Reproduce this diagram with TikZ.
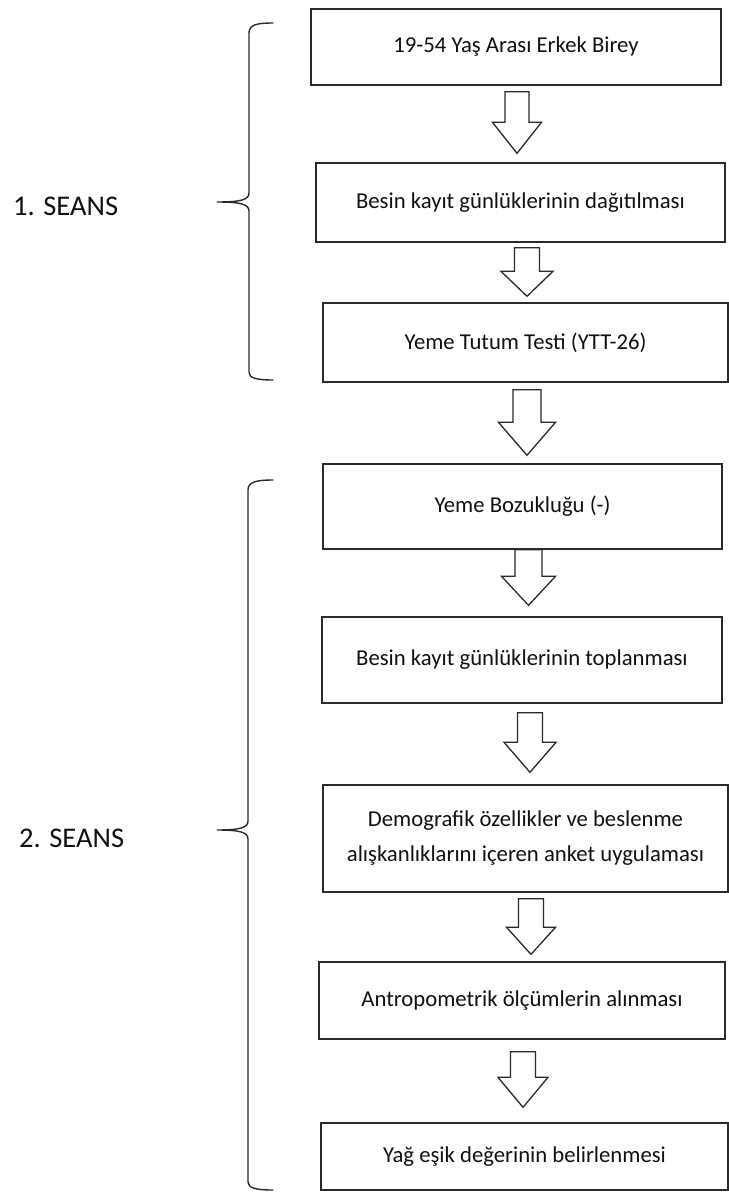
\documentclass[tikz,border=0pt]{standalone}
\usepackage{fontspec}
\setmainfont{Carlito}
\usetikzlibrary{calc}
\definecolor{linec}{HTML}{2A2A2A}
\definecolor{textc}{HTML}{111111}
\tikzset{
  box/.style={draw=linec, line width=1.4bp, rectangle, inner sep=0pt, align=center,
    text=textc, font=\fontsize{22.7bp}{35bp}\selectfont},
  barrow/.style={draw=linec, line width=1.3bp, fill=white, line join=miter},
  bracepath/.style={draw=linec, line width=1.4bp, line cap=round},
  seans/.style={text=textc, font=\fontsize{28.5bp}{34bp}\selectfont, inner sep=0pt, anchor=west}
}
% #1 from, #2 to, #3 centre x, #4 stem half width, #5 head half width, #6 top gap, #7 bottom gap, #8 head length
\newcommand{\blockarrow}[8]{%
  \draw[barrow] let \p1=(#1.south), \p2=(#2.north) in
    ({(#3-#4)*1bp},{\y1-#6bp}) -- ({(#3+#4)*1bp},{\y1-#6bp})
    -- ({(#3+#4)*1bp},{\y2+#7bp+#8bp}) -- ({(#3+#5)*1bp},{\y2+#7bp+#8bp})
    -- ({#3*1bp},{\y2+#7bp}) -- ({(#3-#5)*1bp},{\y2+#7bp+#8bp})
    -- ({(#3-#4)*1bp},{\y2+#7bp+#8bp}) -- cycle;}
\begin{document}
\begin{tikzpicture}[x=1bp,y=-1bp]
\useasboundingbox[fill=white] (0,0) rectangle (729,1193);

\node[box, minimum width=410bp, minimum height=76bp] (b1) at (516,47) {19-54 Yaş Arası Erkek Birey};
\node[box, minimum width=409bp, minimum height=79bp] (b2) at (520.5,202.5) {Besin kayıt günlüklerinin dağıtılması};
\node[box, minimum width=405bp, minimum height=79bp] (b3) at (525.5,342.5) {Yeme Tutum Testi (YTT-26)};
\node[box, minimum width=399bp, minimum height=85bp] (b4) at (522.5,506.5) {Yeme Bozukluğu (-)};
\node[box, minimum width=400bp, minimum height=86bp] (b5) at (522,660) {Besin kayıt günlüklerinin toplanması};
\node[box, minimum width=405bp, minimum height=107bp] (b6) at (525.5,838.5) {Demografik özellikler ve beslenme\\alışkanlıklarını içeren anket uygulaması};
\node[box, minimum width=406bp, minimum height=77bp] (b7) at (522,1000.5) {Antropometrik ölçümlerin alınması};
\node[box, minimum width=407bp, minimum height=67bp] (b8) at (524.5,1156.5) {Yağ eşik değerinin belirlenmesi};

\blockarrow{b1}{b2}{517}{12}{24.5}{6}{9}{31}
\blockarrow{b2}{b3}{527}{12.5}{26}{5}{6}{25}
\blockarrow{b3}{b4}{527}{14}{28.5}{7}{8}{33}
\blockarrow{b4}{b5}{528.5}{13.5}{27}{0}{11}{29}
\blockarrow{b5}{b6}{530}{12.5}{26}{9}{12}{30}
\blockarrow{b6}{b7}{531}{12.5}{24.5}{6}{7}{27}
\blockarrow{b7}{b8}{523}{12.5}{25}{12}{15}{30}

% braces
\draw[bracepath] (273,23) .. controls (256,23) and (249,25) .. (249,33)
  -- (249,193) .. controls (249,200) and (240,202) .. (217,202)
  .. controls (240,202) and (249,204) .. (249,211)
  -- (249,372) .. controls (249,378) and (256,380) .. (273,380);
\draw[bracepath] (273,480) .. controls (256,480) and (248,482) .. (248,490)
  -- (248,821) .. controls (248,828) and (239,830) .. (217,830)
  .. controls (239,830) and (248,832) .. (248,839)
  -- (248,1182) .. controls (248,1188) and (256,1190) .. (273,1190);

\node[seans] (s1) at (13,206) {1. SEANS};
\node[seans] (s2) at (19,838) {2. SEANS};
\end{tikzpicture}
\end{document}
